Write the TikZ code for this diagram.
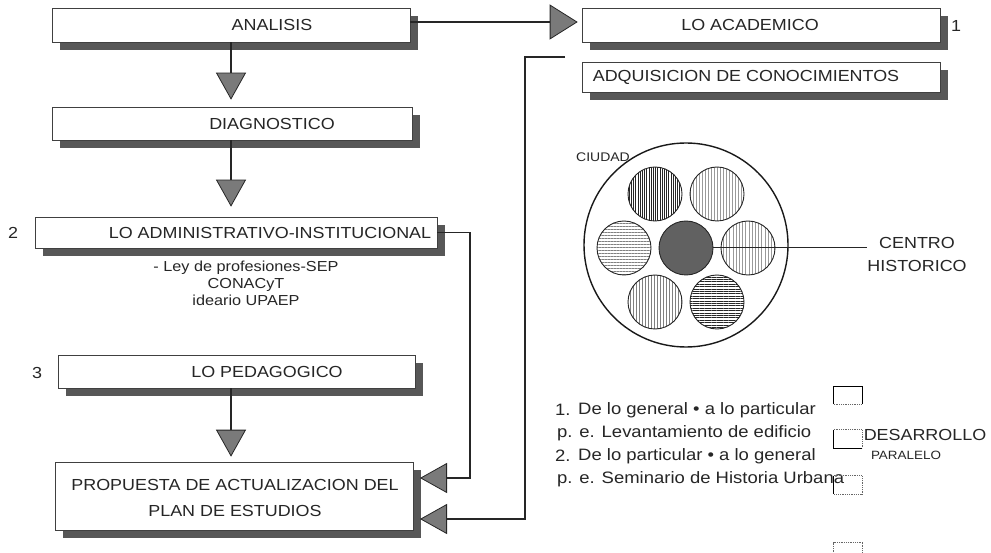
\documentclass[tikz,border=0pt]{standalone}
\usepackage{fontspec}
\setmainfont{Liberation Sans}[FakeStretch=1.12]
\usetikzlibrary{arrows.meta,shadows,patterns.meta,calc}
\begin{document}
\begin{tikzpicture}[x=1pt,y=-1pt,
  sbox/.style={draw=black!75, line width=0.6pt, fill=white, inner sep=0pt,
    general shadow={fill=black!66, shadow xshift=8pt, shadow yshift=-8pt}},
  captxt/.style={font=\fontsize{16}{19}\selectfont, text=black!85, inner sep=0pt},
  smtxt/.style={font=\fontsize{14.5}{17}\selectfont, text=black!85, inner sep=0pt},
  listtxt/.style={font=\fontsize{16.5}{19}\selectfont, text=black!85, inner sep=0pt},
  conn/.style={draw=black!85, line width=1.6pt},
  tipd/.style={-{Triangle[width=30pt,length=27pt,fill=black!52,line width=0.8pt]}},
  tipl/.style={-{Triangle[width=30pt,length=27pt,fill=black!52,line width=0.8pt]}},
  tipr/.style={-{Triangle[width=35pt,length=28pt,fill=black!52,line width=0.8pt]}},
  hc/.style={circle, draw=black!85, line width=0.9pt, minimum size=54pt, inner sep=0pt},
  brk/.style={minimum width=28pt, inner sep=0pt},
  brksolid/.style={draw=black, line width=1.2pt},
  brkdot/.style={draw=black!60, line width=0.8pt, densely dotted}
]
\useasboundingbox (0,0) rectangle (991,553);
\fill[white] (0,0) rectangle (991,553);

% left column boxes
\node[sbox, minimum width=358pt, minimum height=34pt] (analisis) at (231,25) {};
\node[captxt] (tanalisis) at (272,25) {ANALISIS};
\node[sbox, minimum width=360pt, minimum height=33pt] (diag) at (232,123.5) {};
\node[captxt] (tdiag) at (272,123.5) {DIAGNOSTICO};
\node[sbox, minimum width=402pt, minimum height=31pt] (admin) at (236,232.5) {};
\node[captxt] (tadmin) at (270,232.5) {LO ADMINISTRATIVO-INSTITUCIONAL};
\node[captxt] (n2) at (13,233) {2};
\node[smtxt, align=center] (ley) at (246,283) {- Ley de profesiones-SEP\\CONACyT\\ideario UPAEP};
\node[sbox, minimum width=357pt, minimum height=33pt] (ped) at (236.5,371.5) {};
\node[captxt] (tped) at (267,372) {LO PEDAGOGICO};
\node[captxt] (n3) at (37,373) {3};
\node[sbox, minimum width=358pt, minimum height=68pt] (prop) at (234,496) {};
\node[captxt, align=center, font=\fontsize{16}{26}\selectfont] (tprop) at (235,498) {PROPUESTA DE ACTUALIZACION DEL\\PLAN DE ESTUDIOS};

% right column boxes
\node[sbox, minimum width=358pt, minimum height=34pt] (acad) at (761,25) {};
\node[captxt] (tacad) at (750,25) {LO ACADEMICO};
\node[captxt] (n1) at (956,26) {1};
\node[sbox, minimum width=358pt, minimum height=30pt] (adq) at (761,77) {};
\node[captxt] (tadq) at (746,77) {ADQUISICION DE CONOCIMIENTOS};

% connectors
\draw[conn, tipd, shorten >=7pt] (analisis.south) -- (analisis.south |- diag.north);
\draw[conn, tipd, shorten >=10pt] (analisis.south |- diag.south) -- (analisis.south |- admin.north);
\draw[conn, tipd, shorten >=5pt] (analisis.south |- ped.south) -- (analisis.south |- prop.north);
\draw[conn, tipr, shorten >=4pt] ([yshift=3pt]analisis.east) -- ([yshift=3pt]acad.west);

\coordinate (pin1) at (420,478);
\coordinate (pin2) at (420,519);
\coordinate (stub) at (565,57);
\draw[conn, tipl] (admin.east) -| ($(pin1)+(50,0)$) -- (pin1);
\draw[conn, tipl] (stub) -| ($(pin2)+(105,0)$) -- (pin2);

% city diagram
\node[captxt, font=\fontsize{12.5}{15}\selectfont] (ciudad) at (603,157) {CIUDAD};
\node[circle, draw=black!90, line width=1.4pt, minimum size=204pt, inner sep=0pt] (city) at (686,245) {};
\node[hc, pattern={Lines[angle=90,distance=2.2pt,line width=0.9pt]}, pattern color=black!85] (c1) at (655,194) {};
\node[hc, pattern={Lines[angle=90,distance=3pt,line width=0.35pt]}, pattern color=black!40] (c2) at (717,194) {};
\node[hc, pattern={Lines[angle=0,distance=3pt,line width=0.5pt]}, pattern color=black!50] (c3) at (624,248) {};
\node[hc, fill=black!62] (cc) at (686,248) {};
\node[hc, pattern={Lines[angle=90,distance=3.2pt,line width=0.4pt]}, pattern color=black!40] (c5) at (748,248) {};
\node[hc, pattern={Lines[angle=90,distance=3pt,line width=0.5pt]}, pattern color=black!50] (c6) at (655,302) {};
\node[hc, pattern={Lines[angle=0,distance=2.4pt,line width=0.9pt]}, pattern color=black!85] (c7) at (717,302) {};
\node[captxt, align=center, font=\fontsize{16}{23}\selectfont] (centro) at (917,254.5) {CENTRO\\HISTORICO};
\draw[draw=black!85, line width=1pt] (cc.east) -- (cc.east -| centro.west);

% list
\node[listtxt, anchor=west] (l1n) at (555,410) {1.};
\node[listtxt, anchor=west] (l1) at (578,410) {De lo general • a lo particular};
\node[listtxt, anchor=west] (l2) at (557,433) {p. e. Levantamiento de edificio};
\node[listtxt, anchor=west] (l3n) at (555,456) {2.};
\node[listtxt, anchor=west] (l3) at (578,456) {De lo particular • a lo general};
\node[listtxt, anchor=west] (l4) at (557,479) {p. e. Seminario de Historia Urbana};

% brackets
\node[brk, minimum height=17pt] (b1) at (848,395.5) {};
\draw[brkdot] (b1.south west) -- (b1.south east);
\draw[brksolid] (b1.south west) -- (b1.north west) -- (b1.north east) -- (b1.south east);
\node[brk, minimum height=18pt] (b2) at (848,439) {};
\draw[brkdot] (b2.north west) -- (b2.north east) -- (b2.south east);
\draw[brksolid] (b2.north west) -- (b2.south west) -- (b2.south east);
\node[brk, minimum height=18pt] (b3) at (848,485) {};
\draw[brkdot] (b3.north west) -- (b3.north east) -- (b3.south east) -- (b3.south west);
\draw[brksolid] (b3.north west) -- (b3.south west);
\node[brk, minimum height=18pt] (b4) at (848,552) {};
\draw[brkdot] (b4.south west) -- (b4.north west) -- (b4.north east) -- (b4.south east);
\node[captxt] (desa) at (925,435) {DESARROLLO};
\node[captxt, font=\fontsize{12}{14}\selectfont] (para) at (906,455) {PARALELO};
\end{tikzpicture}
\end{document}
